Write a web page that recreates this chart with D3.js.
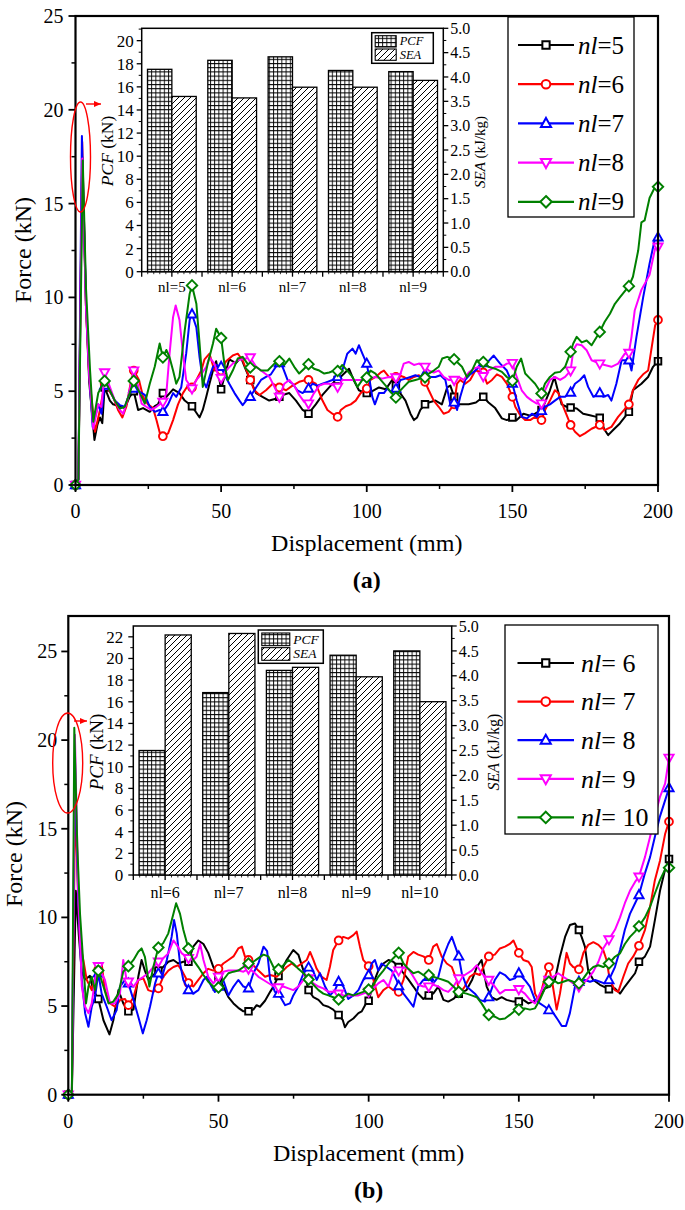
<!DOCTYPE html>
<html><head><meta charset="utf-8">
<script src="https://cdn.jsdelivr.net/npm/d3@7"></script>
<style>
body{margin:0;background:#fff}
svg{display:block;font-family:"Liberation Serif","DejaVu Serif",serif}
svg text{font-family:"Liberation Serif","DejaVu Serif",serif;fill:#000}
</style>
</head><body>
<svg id="c" width="685" height="1210" font-family="Liberation Serif, DejaVu Serif, serif"></svg>
<script>
// ---------------- DATA ----------------
const xTicks = [0, 50, 100, 150, 200];
const topYTicks = [0, 5, 10, 15, 20, 25];
const botYTicks = [0, 5, 10, 15, 20, 25];
const topCats = ["nl=5", "nl=6", "nl=7", "nl=8", "nl=9"];
const topPCF = [17.52, 18.3, 18.6, 17.42, 17.32];
const topSEA = [3.6, 3.57, 3.79, 3.79, 3.93];
const botCats = ["nl=6", "nl=7", "nl=8", "nl=9", "nl=10"];
const botPCF = [11.5, 16.85, 18.9, 20.3, 20.7];
const botSEA = [4.82, 4.85, 4.17, 3.98, 3.48];
const topPcfTicks = [0, 2, 4, 6, 8, 10, 12, 14, 16, 18, 20];
const botPcfTicks = [0, 2, 4, 6, 8, 10, 12, 14, 16, 18, 20, 22];
const seaTicks = ["0.0", "0.5", "1.0", "1.5", "2.0", "2.5", "3.0", "3.5", "4.0", "4.5", "5.0"];
const topLegend = ["=5", "=6", "=7", "=8", "=9"];
const botLegend = ["= 6", "= 7", "= 8", "= 9", "= 10"];
const colors = ["#000000", "#ff0000", "#0000ff", "#ff00ff", "#008000"];
const markers = ["square", "circle", "tri", "triDown", "diamond"];

const topNl5 = [[0,0],[1,0.3],[2.3,17.5],[3.6,9.5],[4.7,5.5],[6.5,2.4],[7.5,3.2],[8.4,3.6],[9.2,3.3],[10,5.2],[11.8,4.5],[12.9,4.3],[15.2,4.2],[16.9,4.1],[18.6,4.7],[20,5.0],[21.5,4.0],[23.2,4.1],[25.5,3.9],[27.2,4.2],[28.3,4.3],[30,4.9],[31.2,4.7],[33.5,5.1],[35.7,4.9],[37.5,4.5],[40,4.2],[42.6,3.6],[43.7,4.0],[44.9,4.7],[46,5.4],[47.2,6.1],[48.3,6.6],[50,5.1],[51.7,6.1],[52.8,6.7],[55.1,6.5],[56.8,6.8],[58.6,6.1],[60,5.6],[62,4.9],[64.2,4.7],[66.5,4.5],[68.8,4.6],[70,4.7],[71.1,4.8],[73.4,4.9],[75.7,4.5],[78,4.0],[80,3.8],[82.5,4.3],[84.8,4.8],[87.1,5.2],[89.4,5.6],[90,5.6],[91.6,5.85],[93.9,6.2],[95.5,5.6],[97.3,5.05],[99.6,4.9],[100,4.9],[101.9,5.0],[104.2,5.2],[106.5,5.1],[108.7,5.6],[110,5.3],[111,5.0],[113.3,4.5],[115,3.8],[116.2,3.46],[117.3,3.6],[118.4,4.0],[120,4.3],[121.3,4.4],[123.6,4.5],[125.8,4.3],[127.6,5.2],[128.7,5.3],[130,4.7],[131.6,4.3],[133.8,4.3],[135,4.3],[137.5,4.4],[140,4.7],[141.8,4.4],[144.1,4.1],[146.4,3.55],[148.1,3.46],[150,3.6],[151.5,3.46],[153.8,3.8],[156.1,3.7],[157.8,3.8],[160,4.0],[161.2,4.4],[162.9,5.05],[164.4,5.76],[165.6,5.05],[166.9,4.3],[168.6,4.17],[170,4.13],[172.1,4.08],[174.3,3.8],[176.6,3.72],[178.9,3.63],[180,3.58],[181.7,2.93],[182.9,2.66],[184.6,2.93],[186.9,3.28],[190,3.9],[191.4,5.05],[194.3,5.4],[196.6,5.76],[198.3,6.3],[200,6.6]];
const topNl6 = [[0,0],[1,0.3],[2.3,18.3],[3.6,9.5],[4.7,5.8],[6.7,2.84],[8.4,4.0],[10,5.4],[11.2,5.1],[12.9,4.7],[14.6,4.0],[16.1,3.6],[17.5,4.2],[18.9,5.4],[20,6.1],[21.8,5.6],[23.2,4.7],[24.9,4.3],[26.6,4.1],[27.8,3.46],[29,2.75],[30,2.6],[31.8,2.75],[33.5,3.46],[35.2,4.3],[36.9,4.9],[38.6,5.3],[40,5.2],[41.5,5.6],[43.2,6.1],[44.3,6.7],[46,7.0],[47.7,6.1],[50,6.1],[51.7,6.6],[54,6.9],[55.7,7.0],[57.4,6.65],[60,5.6],[61.4,5.05],[63.2,4.8],[65.4,5.05],[67.7,5.4],[70,5.2],[72.3,5.05],[74.5,5.3],[76.8,5.5],[79.1,5.6],[80,5.6],[82.5,5.4],[84.8,4.5],[86.5,4.0],[88.2,3.8],[90,3.63],[91.1,4.0],[92.8,4.2],[94.5,4.3],[96.2,4.5],[97.9,4.9],[100,5.14],[101.3,5.6],[103,5.76],[104.8,6.0],[105.9,6.1],[107.6,5.76],[110,5.76],[111,5.85],[112.7,5.76],[114.4,5.6],[116.2,5.76],[117.9,5.85],[120,5.5],[121.3,5.05],[123,4.5],[124.7,4.17],[126.4,3.8],[128.1,3.9],[130,4.3],[131,5.4],[132.1,5.6],[133.8,5.4],[135.5,5.6],[137.3,6.1],[140,6.0],[141.3,5.4],[143,5.6],[144.7,5.9],[146.4,5.76],[148.1,5.4],[150,4.7],[151,4.17],[152.7,3.72],[154.4,3.46],[156.1,3.46],[157.8,3.63],[160,3.46],[161.2,4.0],[162.9,4.5],[164.6,5.05],[165.8,4.9],[167.5,4.17],[170,3.2],[171.5,2.84],[173.2,2.6],[174.9,2.75],[177.2,3.0],[180,3.2],[181.7,2.93],[184,3.1],[186.3,3.63],[190,4.3],[191.4,5.05],[193.2,5.6],[194.9,5.9],[196.6,6.1],[197.7,7.2],[199,8.5],[200,8.8]];
const topNl7 = [[0,0],[1,0.3],[2.2,18.6],[3.6,9.8],[4.7,6.0],[5.9,3.1],[7.8,4.3],[8.9,3.8],[10,5.3],[11.8,5.05],[13.5,4.5],[15.2,4.26],[16.9,4.17],[18.6,4.9],[20,5.14],[22.1,4.96],[23.8,4.8],[25.5,4.17],[27.2,3.9],[28.9,4.0],[30,3.9],[31.8,4.3],[33.5,4.9],[34.6,4.7],[36.3,5.2],[38,7.0],[39.2,8.8],[40,9.1],[41.5,8.4],[42.6,6.8],[43.7,5.6],[44.9,5.2],[46,5.76],[47.2,6.3],[48.3,6.4],[50,6.3],[51.1,5.9],[52.8,5.4],[54.6,4.9],[56.3,4.5],[57.4,4.26],[58.6,4.5],[60,4.7],[62,5.2],[63.7,5.6],[65.4,5.76],[67.1,5.9],[68.8,6.3],[70,6.5],[71.1,6.3],[72.8,5.6],[74.5,5.4],[76.2,5.05],[78,4.9],[80,5.14],[81.4,5.4],[83.1,5.3],[84.8,5.4],[86.5,5.5],[88.2,5.6],[90,5.76],[91.6,6.1],[93.3,7.0],[95.1,7.27],[96.2,7.0],[97.3,7.45],[98.5,7.0],[100,6.47],[100.8,5.76],[101.9,4.7],[102.8,4.3],[104.2,4.9],[105.9,4.9],[107,5.14],[108.7,4.9],[110,5.14],[111.6,5.6],[113.3,5.67],[115,5.76],[116.7,5.85],[118.4,5.76],[120,5.9],[121.9,5.76],[123.6,5.76],[125.3,5.85],[127,5.6],[128.7,4.3],[130,4.4],[131,4.0],[132.1,4.7],[133.8,5.6],[135.5,5.9],[137.3,6.1],[140,6.5],[141.8,6.6],[143.6,6.9],[145.8,6.47],[148.1,6.1],[150,5.4],[151.5,4.5],[153.2,3.63],[155,3.55],[156.7,3.8],[158.4,3.63],[160,3.95],[161.2,4.17],[162.9,4.3],[164.6,4.5],[166.4,4.7],[168.1,4.7],[170,4.93],[171.5,5.4],[173.2,5.6],[174.7,5.85],[176,5.23],[177.8,4.7],[180,4.9],[181.2,4.7],[182.9,4.8],[184,4.5],[185.7,5.4],[187.5,6.65],[190,6.65],[190.9,6.1],[192.6,7.9],[194.9,10.0],[197.1,11.8],[198.9,13.1],[200,13.2]];
const topNl8 = [[0,0],[1,0.3],[2.3,17.4],[3.6,9.5],[4.7,5.9],[6.1,3.0],[7.8,4.3],[8.9,4.17],[10,6.0],[11.8,5.23],[13.5,4.5],[15.2,4.0],[16.4,3.8],[18.1,4.7],[20,6.1],[21.6,5.23],[22.7,4.34],[24.3,4.17],[26,4.0],[27.8,4.17],[30,4.43],[31.2,4.9],[32.3,7.0],[33.5,8.95],[34.4,9.57],[35.7,8.8],[36.9,7.0],[38,5.6],[40,5.14],[41.5,5.6],[43.2,5.9],[44.9,6.3],[46,6.8],[47.7,6.47],[48.9,5.9],[50,5.7],[51.7,6.1],[54,6.47],[55.7,6.65],[57.4,6.7],[60,6.8],[62,6.3],[63.7,6.1],[65.4,5.9],[66.6,5.76],[68.3,5.23],[70,4.7],[71.7,5.4],[73.4,5.6],[75.1,5.3],[76.8,4.8],[78.5,4.43],[80,4.34],[81.9,4.9],[83.7,5.3],[85.4,5.4],[87.1,5.4],[88.8,5.3],[90,5.23],[91.6,5.6],[95,5.6],[98.5,5.6],[100.8,5.67],[103,5.76],[105.3,5.67],[107.6,5.76],[110,5.73],[111.6,5.94],[112.7,6.47],[114.4,6.56],[116.2,6.4],[117.9,6.47],[120,6.3],[121.3,6.1],[123,6.0],[124.7,6.1],[126.4,5.76],[128.1,5.6],[130,5.6],[131.5,5.76],[133.3,5.6],[135,6.0],[136.7,6.2],[138.4,6.3],[140,5.8],[141.8,6.1],[144.1,6.3],[146.4,6.3],[148.1,6.47],[150,6.5],[151.5,5.76],[153.2,5.05],[155,4.7],[156.7,4.5],[158.4,4.34],[160,4.34],[161.2,5.05],[162.9,5.6],[164.6,5.76],[166.4,5.6],[168.1,5.76],[170,6.1],[170.9,7.18],[172.1,7.5],[173.8,7.45],[175.5,7.18],[177.2,6.65],[180,6.47],[181.7,6.4],[184,6.3],[186.3,6.47],[188.6,7.0],[190,7.04],[190.9,7.9],[192,9.3],[194.3,10.4],[197.1,11.2],[199,12.6],[200,12.7]];
const topNl9 = [[0,0],[1,0.3],[2.5,17.3],[3.6,10.5],[5,6.1],[6.1,3.37],[7.8,4.9],[8.9,5.23],[10,5.55],[11.8,5.05],[13.5,4.5],[15.2,4.08],[16.9,4.17],[18.6,4.9],[20,5.55],[22.1,4.9],[23.8,4.34],[25.5,5.4],[27.2,6.3],[28.9,7.54],[30,6.8],[31.2,7.2],[32.3,6.8],[33.5,6.1],[34.6,5.4],[35.7,5.76],[37.5,8.24],[39.2,10.2],[40,10.64],[41.5,9.66],[42.6,7.54],[43.7,5.23],[45.4,6.47],[47.2,7.54],[48.3,8.33],[50,7.84],[51.1,6.47],[52.3,5.58],[54,6.1],[55.7,6.74],[57.4,6.83],[60,6.26],[62,6.3],[63.7,6.1],[66,6.1],[68.3,6.47],[70,6.6],[71.7,6.4],[73.4,6.74],[75.1,6.3],[76.8,5.94],[78.5,6.2],[80,6.44],[81.9,6.2],[83.7,6.1],[85.4,5.94],[87.1,6.0],[88.8,6.1],[90,6.08],[91.6,6.4],[93.3,6.1],[95.1,5.76],[96.8,5.23],[98.5,5.6],[100,5.73],[101.3,6.1],[103,5.94],[104.8,5.6],[106.5,5.3],[108.2,4.96],[110,4.66],[111,4.96],[112.7,5.23],[114.4,5.5],[116.7,5.6],[118.4,5.67],[120,5.73],[121.3,5.94],[123,6.1],[124.7,6.3],[125.9,6.74],[127.6,6.83],[130,6.7],[131,6.56],[132.7,6.3],[134.4,5.76],[136.1,6.1],[137.8,6.65],[140,6.56],[141.8,6.3],[144.1,6.2],[146.4,6.03],[148.1,5.76],[150,5.55],[151.5,6.3],[153,6.74],[154.4,5.94],[156.1,5.67],[157.8,5.4],[160,4.88],[161.2,5.4],[162.9,5.76],[164.6,5.98],[166.4,6.03],[168.1,6.3],[170,7.1],[170.9,7.54],[172.1,7.9],[173.8,7.6],[175.5,7.7],[177.2,7.45],[180,8.16],[181.7,8.7],[183.5,9.13],[185.2,9.66],[186.9,10.0],[190,10.6],[191.4,11.1],[193.2,12.5],[194.3,14.0],[195.4,14.1],[197.1,15.3],[199,15.9],[200,15.9]];

const botNl6 = [[0,0],[1.2,0.2],[2.5,11.5],[3.5,9],[4.5,6.9],[5.6,6.5],[7.2,6.7],[8.3,5.9],[10,5.4],[11.7,4.2],[13.7,3.4],[15,4.2],[16.7,5.9],[18.3,5.15],[20,4.7],[21.7,4.8],[23.3,6.65],[24.4,7.6],[25.5,7.0],[26.6,6.5],[28.3,6.75],[30,7.0],[31.6,7.2],[33.3,7.5],[35,7.6],[36.6,7.4],[38.3,7.5],[40,7.5],[41.6,8.35],[43.3,8.7],[45,8.5],[46.6,8.0],[48.3,7.2],[50,6.65],[51.6,6.1],[53.3,5.5],[55,5.15],[56.6,4.9],[58.3,4.7],[60,4.7],[61.6,4.8],[62.7,5.05],[63.8,4.96],[65.5,5.3],[67.2,5.8],[68.3,6.1],[70,6.7],[72.7,7.6],[74.9,8.16],[76.6,7.9],[78.3,7.0],[80,5.9],[81.6,5.5],[83.3,5.35],[84.9,5.05],[86.6,4.96],[88.2,4.8],[90,4.5],[91.4,4.2],[92.1,3.8],[93.2,4.1],[94.9,4.3],[96.6,4.6],[97.7,4.7],[98.8,5.05],[100,5.3],[101.6,6.3],[103.2,7.0],[104.9,7.4],[106.6,7.6],[108.2,7.5],[110,7.2],[111.6,6.85],[113.2,6.5],[114.9,6.1],[116.5,5.7],[118.2,5.4],[120,5.6],[121.5,5.7],[123.2,6.1],[124.9,5.35],[126.5,5.25],[128.2,5.4],[130,5.7],[132.6,5.9],[134.5,6.5],[136,7.2],[137.6,7.6],[139.3,6.1],[140.9,5.5],[142.6,5.35],[144.3,5.5],[145.9,5.35],[148.2,5.25],[150,5.25],[151.5,5.35],[153.2,5.15],[154.8,5.25],[157,5.5],[158.7,6.0],[160.4,6.1],[162,6.47],[163.7,7.8],[165.4,8.9],[167,9.57],[168.7,9.66],[170,9.29],[170.9,8.9],[172,8.35],[173.1,7.0],[174.8,6.47],[177,6.2],[180,5.95],[182,6.0],[183.7,5.7],[185.3,6.1],[187,6.47],[188.7,6.85],[190,7.5],[192,7.8],[193.7,8.35],[195.3,9.85],[197,11.5],[198.7,12.7],[200,13.3]];
const botNl7 = [[0,0],[1.2,0.2],[2.3,16.85],[3.3,11],[3.9,8.5],[5,7.6],[6.1,6.5],[7.8,5.9],[9.4,6.85],[10,7.07],[11.1,7.4],[12.2,5.9],[13.9,5.15],[15.6,4.96],[17.3,5.35],[18.9,5.4],[20,5.05],[21.7,5.5],[23.3,6.47],[25,6.56],[26.6,5.9],[28.3,5.8],[30,6.0],[31.6,6.65],[33.3,7.0],[35,7.2],[36.6,7.3],[37.8,7.0],[38.9,6.65],[40,6.3],[41.6,6.1],[43.3,6.47],[45,6.85],[46.6,7.1],[48.3,7.0],[50,7.1],[51.6,7.4],[53.3,7.6],[55,7.8],[56.6,8.25],[57.8,8.35],[58.8,7.8],[60,7.6],[61.6,7.3],[63.3,7.0],[65.5,6.65],[67.2,6.75],[69.4,6.65],[71,6.9],[72.7,7.2],[74.4,7.4],[76,7.2],[77.7,7.4],[79.4,7.6],[80.5,8.05],[81.6,7.6],[82.7,7.1],[84.4,6.65],[86,6.47],[87.1,7.2],[88.2,8.16],[90,8.7],[91.6,8.9],[93.2,8.8],[94.9,9.0],[96,9.2],[97.1,8.35],[98.2,7.6],[100,7.25],[101.6,6.47],[103.2,5.5],[104.9,5.9],[106.6,6.1],[108.2,5.9],[110,5.8],[111.6,6.47],[113.2,7.8],[114.9,8.05],[116.5,7.9],[118.2,7.8],[120,7.6],[121.5,8.35],[122.7,8.5],[124.3,7.8],[126,7.4],[127.7,7.2],[129.3,6.47],[130.4,5.7],[132,6.1],[133.7,6.65],[135.4,6.85],[137,6.75],[138.2,7.2],[140,7.8],[142,7.9],[143.7,8.25],[145.4,8.35],[147,8.5],[148.2,8.7],[150,8.0],[151.5,7.6],[153.2,7.5],[154.3,7.2],[155.4,5.7],[156.5,5.35],[157.6,5.9],[158.7,6.65],[160,7.2],[161,6.47],[162.6,4.8],[163.7,5.7],[164.8,6.85],[165.9,8.0],[167,7.4],[168.1,7.2],[170,7.07],[171.5,8.0],[173.1,8.45],[174.8,8.6],[176.5,8.45],[178.1,8.16],[179.2,7.6],[180.3,6.47],[182,5.9],[183.1,5.8],[184.8,6.65],[186.4,7.4],[188.1,7.8],[190,8.4],[192,9.3],[193.7,10.6],[195.3,12.1],[197,13.2],[198.7,14.7],[200,15.4]];
const botNl8 = [[0,0],[1.2,0.2],[2.2,18.9],[3.3,11],[4.5,6.47],[5.6,4.6],[6.7,3.83],[7.8,4.96],[8.9,5.5],[10,6.85],[11.1,5.7],[12.8,4.96],[14.4,4.2],[16.1,4.77],[17.2,6.1],[18.9,6.47],[20,6.28],[21.7,5.35],[23.3,4.4],[24.8,3.46],[26.1,4.2],[27.2,4.96],[28.9,6.28],[30,6.85],[31.1,6.56],[32.8,7.6],[34.4,8.9],[35.2,9.85],[36.1,9.1],[37.2,7.4],[38.3,6.47],[40,5.9],[41.6,5.7],[43.3,5.9],[45,6.47],[46.1,6.65],[47.7,6.1],[48.8,5.8],[50,6.1],[51.6,6.47],[53.3,5.6],[55,6.1],[56.6,6.47],[58.3,6.1],[60,6.0],[61.6,6.85],[63.3,7.4],[65,8.35],[66.2,8.1],[67.2,6.47],[68.8,5.8],[70,5.7],[72.2,5.05],[73.8,5.15],[74.9,5.6],[76.6,6.1],[78.3,6.85],[80,7.18],[81.6,6.94],[82.7,6.47],[83.8,6.85],[85.5,6.1],[87.1,5.6],[88.8,5.9],[90,6.37],[91.6,6.1],[93.2,5.4],[94.9,5.6],[96.6,5.9],[98.2,6.47],[100,6.75],[101,7.4],[102.1,7.6],[103.2,7.0],[104.3,7.4],[106,7.2],[107.7,7.0],[109.3,6.47],[110,6.13],[111.6,5.7],[113.2,5.35],[114.9,4.96],[116.5,6.1],[118.2,6.47],[120,6.65],[121.5,6.28],[123.2,6.65],[124.9,7.8],[126.5,8.5],[127.7,8.9],[130,7.8],[131,6.85],[132.6,6.1],[135.4,5.7],[137,5.35],[138.7,5.25],[140,5.5],[142,6.47],[143.7,6.9],[145.4,6.75],[147,6.47],[148.7,6.56],[150,6.85],[152,6.47],[153.7,6.1],[155.4,5.35],[157,5.15],[158.7,4.96],[160,4.77],[161.5,4.6],[163.1,4.2],[164.3,3.87],[165.7,3.87],[167,4.6],[168.7,6.1],[170,6.37],[172,6.47],[173.7,6.37],[175.4,6.47],[177,6.37],[178.5,6.28],[180,6.47],[182,7.2],[183.7,8.16],[185.3,9.3],[187,10.2],[188.7,10.8],[190,11.26],[192,12.5],[193.7,13.4],[195.3,14.55],[197,15.7],[198.7,16.6],[200,17.3]];
const botNl9 = [[0,0],[1.2,0.2],[2.2,20.3],[3.3,11.5],[4.5,6.1],[5.6,4.96],[6.7,4.6],[7.8,5.15],[8.9,6.5],[10,7.25],[11.1,6.85],[12.2,6.47],[13.9,5.15],[15.6,5.15],[17.2,5.7],[18.3,7.6],[19.4,6.47],[20,6.37],[21.7,6.1],[23.3,6.47],[25,6.65],[26.6,6.85],[28.3,7.2],[30,7.5],[31.6,7.7],[33.3,7.97],[35,8.7],[36.1,8.45],[37.8,7.97],[40,7.7],[41.6,7.6],[42.7,7.78],[43.9,8.5],[45,7.6],[46.6,6.65],[48.3,6.28],[50,6.65],[51.6,6.94],[53.3,7.0],[56.6,7.0],[58.3,6.94],[60,7.1],[61.6,6.94],[63.3,6.65],[65,6.47],[66.6,6.3],[68.3,6.13],[70,6.05],[71.6,6.1],[73.3,6.0],[74.9,5.9],[76.6,6.1],[78.3,6.47],[80,6.56],[81.6,6.28],[83.3,6.1],[84.9,6.0],[86.6,5.8],[88.2,5.8],[90,5.7],[91.6,5.6],[96.6,5.6],[98.2,5.7],[100,5.8],[101.6,6.0],[103.2,6.28],[104.9,6.47],[106.6,6.1],[108.2,6.94],[110,7.0],[111.6,7.18],[113.2,7.1],[114.9,6.65],[116.5,6.2],[118.2,6.1],[120,6.1],[121.5,6.2],[123.2,6.1],[124.9,5.9],[126.5,5.8],[128.2,6.1],[130,6.56],[132,6.75],[134.3,7.0],[136,7.3],[137.6,6.85],[140,6.47],[142,6.1],[143.7,5.7],[145.4,5.9],[148.7,5.9],[150,5.95],[152,5.7],[153.7,5.35],[155.4,5.15],[157,5.7],[158.7,6.28],[160,6.47],[161.5,6.65],[163.1,6.85],[164.8,6.65],[166.5,6.47],[168.1,6.28],[170,6.1],[171.5,6.28],[173.1,6.56],[174.8,6.94],[176.5,7.5],[178.1,8.25],[180,8.76],[182,9.3],[183.7,10.0],[185.3,10.8],[187,11.5],[188.7,12.0],[190,12.3],[192,13.4],[193.7,14.55],[195.3,15.7],[197,16.8],[198.7,17.55],[200,19.0]];
const botNl10 = [[0,0],[1.2,0.2],[2.0,20.7],[3.0,14],[3.9,10.2],[5,7.4],[5.9,5.15],[6.7,6.1],[7.8,6.65],[8.9,5.9],[10,7.0],[11.7,6.1],[13.4,5.15],[15,5.25],[16.7,5.7],[18.3,6.94],[20,7.25],[21.7,7.6],[23.3,8.06],[24.4,8.25],[25.5,7.78],[27,6.1],[28.3,7.2],[30,8.3],[31.6,8.55],[33.3,9.1],[35,10.2],[35.9,10.8],[37.2,10.2],[38.3,9.3],[40,8.25],[41.6,7.6],[43.3,7.2],[45,6.75],[46.6,6.37],[48.3,6.1],[50,6.05],[51.6,6.47],[53.3,6.85],[55,6.94],[56.6,7.0],[58.3,7.2],[60,7.4],[61.6,7.5],[63.3,7.7],[65,7.9],[66.6,7.8],[68.3,7.2],[70,7.07],[71.6,7.3],[73.3,7.6],[74.9,7.4],[76.6,7.1],[78.3,6.85],[80,6.5],[81.6,6.2],[83.3,5.9],[84.9,5.7],[86.6,5.6],[88.2,5.5],[90,5.37],[91.6,5.5],[93.2,5.7],[94.9,5.6],[96.6,5.7],[98.2,5.8],[100,5.93],[101.6,6.2],[103.2,6.65],[104.9,7.0],[106.6,7.4],[108.2,7.7],[110,8.0],[111.6,7.4],[113.2,7.1],[114.9,6.85],[116.5,6.94],[118.2,6.75],[120,6.75],[121.5,6.65],[123.2,6.56],[124.9,6.47],[126.5,6.37],[128.2,6.1],[130,5.8],[132.6,5.7],[134.3,5.6],[136,5.5],[137.6,5.15],[140,4.5],[142,4.4],[143.7,4.25],[145.4,4.3],[147,4.5],[148.7,4.74],[150,4.8],[152,4.87],[153.7,4.8],[155.4,4.87],[157,5.35],[158.7,6.0],[160,6.37],[161.5,6.47],[163.1,6.28],[164.8,6.37],[166.5,6.47],[168.1,6.37],[170,6.28],[171.5,6.56],[173.1,6.94],[174.8,7.2],[176.5,7.3],[178.1,7.2],[180,7.4],[182,7.78],[183.7,7.97],[185.3,8.5],[187,8.9],[188.7,9.2],[190,9.5],[192,10.0],[193.7,10.6],[195.3,11.35],[197,12.1],[198.7,12.7],[200,12.8]];

// ---------------- DRAWING ----------------
const FONT = "'Liberation Serif', 'DejaVu Serif', serif";
const svg = d3.select("#c");
svg.append("rect").attr("width", 685).attr("height", 1210).attr("fill", "#fff");
const defs = svg.append("defs");
const gp = defs.append("pattern").attr("id", "gridP").attr("patternUnits", "userSpaceOnUse").attr("width", 4.2).attr("height", 4.2);
gp.append("rect").attr("width", 4.2).attr("height", 4.2).attr("fill", "#fff");
gp.append("path").attr("d", "M0,0.5H4.2M0.5,0V4.2").attr("stroke", "#000").attr("stroke-width", 0.9).attr("fill", "none");
const hp = defs.append("pattern").attr("id", "hatchP").attr("patternUnits", "userSpaceOnUse").attr("width", 6).attr("height", 6);
hp.append("rect").attr("width", 6).attr("height", 6).attr("fill", "#fff");
hp.append("path").attr("d", "M-1.5,1.5L1.5,-1.5M0,6L6,0M4.5,7.5L7.5,4.5").attr("stroke", "#000").attr("stroke-width", 1).attr("fill", "none");
defs.append("marker").attr("id", "arr").attr("markerUnits", "userSpaceOnUse").attr("markerWidth", 8).attr("markerHeight", 8)
  .attr("refX", 7).attr("refY", 4).attr("orient", "auto")
  .append("path").attr("d", "M0,1L7,4L0,7Z").attr("fill", "#ff0000");

function txt(g) { return g.append("text").style("font-family", FONT).attr("fill", "#000"); }

function markerPath(t, k) {
  k = k || 1;
  if (t === "square") { const h = 3.3 * k; return `M${-h},${-h}h${2*h}v${2*h}h${-2*h}Z`; }
  if (t === "circle") { const r = 3.9 * k; return `M${r},0A${r},${r} 0 1,1 ${-r},0A${r},${r} 0 1,1 ${r},0Z`; }
  if (t === "tri") return `M0,${-5*k}L${4.6*k},${3.2*k}L${-4.6*k},${3.2*k}Z`;
  if (t === "triDown") return `M0,${5*k}L${4.6*k},${-3.2*k}L${-4.6*k},${-3.2*k}Z`;
  return `M0,${-5.2*k}L${5.2*k},0L0,${5.2*k}L${-5.2*k},0Z`;
}

function drawInset(g, o, cats, pcf, sea, pcfTicks, pcfMax) {
  const xb = d3.scaleBand().domain(cats).range([o.L, o.R]);
  const yP = d3.scaleLinear().domain([0, pcfMax]).range([o.B, o.T]);
  const yS = d3.scaleLinear().domain([0, 5]).range([o.B, o.T]);
  const step = xb.step(), bw = step * o.bwf;
  g.append("rect").attr("x", o.L).attr("y", o.T).attr("width", o.R - o.L).attr("height", o.B - o.T)
    .attr("fill", "#fff").attr("stroke", "#000").attr("stroke-width", 1.5);
  cats.forEach((c, i) => {
    const cx = xb(c) + step / 2;
    g.append("rect").attr("x", cx - bw).attr("y", yP(pcf[i])).attr("width", bw).attr("height", o.B - yP(pcf[i]))
      .attr("fill", "url(#gridP)").attr("stroke", "#000").attr("stroke-width", 1.3);
    g.append("rect").attr("x", cx).attr("y", yS(sea[i])).attr("width", bw).attr("height", o.B - yS(sea[i]))
      .attr("fill", "url(#hatchP)").attr("stroke", "#000").attr("stroke-width", 1.3);
    txt(g).attr("x", cx).attr("y", o.B + o.catDy).attr("text-anchor", "middle")
      .style("font-size", o.catFs + "px").text(c);
  });
  for (let k = 0; k <= 50; k++) {
    const xx = o.L + k * step / 10;
    const major = k % 5 === 0;
    g.append("line").attr("x1", xx).attr("x2", xx).attr("y1", o.B).attr("y2", o.B + (major ? 5 : 2.5))
      .attr("stroke", "#000").attr("stroke-width", major ? 1.3 : 0.8);
  }
  pcfTicks.forEach(v => {
    g.append("line").attr("x1", o.L - 5).attr("x2", o.L).attr("y1", yP(v)).attr("y2", yP(v)).attr("stroke", "#000").attr("stroke-width", 1.3);
    txt(g).attr("x", o.L - o.lGap).attr("y", yP(v)).attr("dy", "0.35em").attr("text-anchor", "end")
      .style("font-size", o.tickFs + "px").text(v);
    if (v + 1 < pcfMax) g.append("line").attr("x1", o.L - 3).attr("x2", o.L).attr("y1", yP(v + 1)).attr("y2", yP(v + 1)).attr("stroke", "#000").attr("stroke-width", 1);
  });
  seaTicks.forEach(s => {
    const v = +s;
    g.append("line").attr("x1", o.R).attr("x2", o.R + 5).attr("y1", yS(v)).attr("y2", yS(v)).attr("stroke", "#000").attr("stroke-width", 1.3);
    txt(g).attr("x", o.R + o.rGap).attr("y", yS(v)).attr("dy", "0.35em").attr("text-anchor", "start")
      .style("font-size", o.rFs + "px").text(s);
    if (v < 5) g.append("line").attr("x1", o.R).attr("x2", o.R + 3).attr("y1", yS(v + 0.25)).attr("y2", yS(v + 0.25)).attr("stroke", "#000").attr("stroke-width", 1);
  });
  const t1 = txt(g).attr("transform", `translate(${o.pcfTitle[0]},${o.pcfTitle[1]}) rotate(-90)`)
    .attr("text-anchor", "middle").attr("dy", "0.35em").style("font-size", o.titleFs + "px");
  t1.append("tspan").style("font-style", "italic").text("PCF");
  t1.append("tspan").text(" (kN)");
  const t2 = txt(g).attr("transform", `translate(${o.seaTitle[0]},${o.seaTitle[1]}) rotate(-90)`)
    .attr("text-anchor", "middle").attr("dy", "0.35em").style("font-size", o.seaFs + "px");
  t2.append("tspan").style("font-style", "italic").text("SEA");
  t2.append("tspan").text(" (kJ/kg)");
  const lg = o.leg;
  g.append("rect").attr("x", lg.x).attr("y", lg.y).attr("width", lg.w).attr("height", lg.h)
    .attr("fill", "#fff").attr("stroke", "#000").attr("stroke-width", 1.5);
  const rowH = (lg.h - 4) / 2;
  [["PCF", "url(#gridP)"], ["SEA", "url(#hatchP)"]].forEach((e, i) => {
    const yy = lg.y + 2 + i * rowH;
    g.append("rect").attr("x", lg.x + 3.5).attr("y", yy + 1).attr("width", lg.sw).attr("height", rowH - 2)
      .attr("fill", e[1]).attr("stroke", "#000").attr("stroke-width", 1.1);
    txt(g).attr("x", lg.x + lg.sw + 7).attr("y", yy + rowH / 2 + lg.fs * 0.33)
      .style("font-size", lg.fs + "px").style("font-style", "italic").text(e[0]);
  });
}

function drawPanel(o) {
  const g = svg.append("g");
  const x = d3.scaleLinear().domain([0, 200]).range([o.L, o.R]);
  const y = d3.scaleLinear().domain([0, o.yMax]).range([o.B, o.T]);
  const line = d3.line().x(d => x(d[0])).y(d => y(d[1]));
  o.series.forEach((s, i) => {
    g.append("path").datum(s).attr("d", line).attr("fill", "none").attr("stroke", colors[i])
      .attr("stroke-width", 2).attr("stroke-linejoin", "round");
    g.selectAll(null).data(s.filter(d => Math.abs(d[0] % 10) < 1e-9)).enter().append("path")
      .attr("transform", d => `translate(${x(d[0])},${y(d[1])})`)
      .attr("d", markerPath(markers[i])).attr("fill", "#fff").attr("stroke", colors[i]).attr("stroke-width", 1.9);
  });
  g.append("rect").attr("x", o.L).attr("y", o.T).attr("width", o.R - o.L).attr("height", o.B - o.T)
    .attr("fill", "none").attr("stroke", "#000").attr("stroke-width", 2.2);
  o.yTicks.forEach(v => {
    g.append("line").attr("x1", o.L - 7).attr("x2", o.L).attr("y1", y(v)).attr("y2", y(v)).attr("stroke", "#000").attr("stroke-width", 1.8);
    txt(g).attr("x", o.L - o.yLabGap).attr("y", y(v)).attr("dy", "0.35em").attr("text-anchor", "end")
      .style("font-size", "20px").text(v);
    if (v + 2.5 < o.yMax) g.append("line").attr("x1", o.L - 4).attr("x2", o.L).attr("y1", y(v + 2.5)).attr("y2", y(v + 2.5)).attr("stroke", "#000").attr("stroke-width", 1.5);
  });
  xTicks.forEach(v => {
    g.append("line").attr("x1", x(v)).attr("x2", x(v)).attr("y1", o.B).attr("y2", o.B + 7).attr("stroke", "#000").attr("stroke-width", 1.8);
    txt(g).attr("x", x(v)).attr("y", o.B + 33).attr("text-anchor", "middle").style("font-size", "20px").text(v);
    if (v + 25 < 200) g.append("line").attr("x1", x(v + 25)).attr("x2", x(v + 25)).attr("y1", o.B).attr("y2", o.B + 4).attr("stroke", "#000").attr("stroke-width", 1.5);
  });
  txt(g).attr("x", (o.L + o.R) / 2).attr("y", o.B + 66).attr("text-anchor", "middle").style("font-size", "24px").text("Displacement (mm)");
  txt(g).attr("x", (o.L + o.R) / 2).attr("y", o.B + 103).attr("text-anchor", "middle").style("font-size", "24px").style("font-weight", "bold").text(o.tag);
  txt(g).attr("transform", `translate(${o.yTitleX},${o.yTitleY}) rotate(-90)`).attr("text-anchor", "middle").attr("dy", "0.35em")
    .style("font-size", "24px").text("Force (kN)");
  g.append("ellipse").attr("cx", o.ell[0]).attr("cy", o.ell[1]).attr("rx", o.ell[2]).attr("ry", o.ell[3])
    .attr("fill", "none").attr("stroke", "#ff0000").attr("stroke-width", 1.4);
  g.append("line").attr("x1", o.arrow[0]).attr("x2", o.arrow[1]).attr("y1", o.arrow[2]).attr("y2", o.arrow[2])
    .attr("stroke", "#ff0000").attr("stroke-width", 1.4).attr("marker-end", "url(#arr)");
  drawInset(g, o.inset, o.cats, o.pcf, o.sea, o.pcfTicks, o.inset.pcfMax);
  const L = o.legend;
  g.append("rect").attr("x", L.x).attr("y", L.y).attr("width", L.w).attr("height", L.h)
    .attr("fill", "#fff").attr("stroke", "#000").attr("stroke-width", 1.3);
  o.legendLabels.forEach((lab, i) => {
    const yy = L.y + L.first + i * L.gap;
    g.append("line").attr("x1", L.lx1).attr("x2", L.lx2).attr("y1", yy).attr("y2", yy).attr("stroke", colors[i]).attr("stroke-width", 2.2);
    g.append("path").attr("transform", `translate(${(L.lx1 + L.lx2) / 2},${yy})`).attr("d", markerPath(markers[i], 1.1))
      .attr("fill", "#fff").attr("stroke", colors[i]).attr("stroke-width", 2);
    const t = txt(g).attr("x", L.tx).attr("y", yy + L.fs * 0.34).style("font-size", L.fs + "px").style("white-space", "pre");
    t.append("tspan").style("font-style", "italic").text("nl");
    t.append("tspan").text(lab);
  });
}

drawPanel({
  L: 75.5, R: 658, T: 16, B: 485, yMax: 25, yTicks: topYTicks, yLabGap: 12, tag: "(a)",
  yTitleX: 23, yTitleY: 250,
  series: [topNl5, topNl6, topNl7, topNl8, topNl9],
  ell: [80.5, 157, 10, 55], arrow: [86, 101, 104],
  cats: topCats, pcf: topPCF, sea: topSEA, pcfTicks: topPcfTicks,
  inset: { L: 141.7, R: 443.3, T: 28.3, B: 271.7, pcfMax: 21.07, bwf: 0.404, catDy: 20, catFs: 15, tickFs: 17, rFs: 16,
    lGap: 8, rGap: 7, titleFs: 17.5, seaFs: 15, pcfTitle: [107, 151], seaTitle: [480, 152],
    leg: { x: 371.7, y: 32.7, w: 61.6, h: 30.6, sw: 21, fs: 12.5 } },
  legend: { x: 508, y: 17, w: 126, h: 200, first: 28, gap: 39.2, lx1: 518, lx2: 574, tx: 578, fs: 25 },
  legendLabels: topLegend
});

drawPanel({
  L: 68.3, R: 669, T: 616, B: 1094.7, yMax: 27, yTicks: botYTicks, yLabGap: 11, tag: "(b)",
  yTitleX: 14, yTitleY: 854,
  series: [botNl6, botNl7, botNl8, botNl9, botNl10],
  ell: [67.7, 763, 15, 50], arrow: [74, 87, 721],
  cats: botCats, pcf: botPCF, sea: botSEA, pcfTicks: botPcfTicks,
  inset: { L: 133.3, R: 451.7, T: 626, B: 875, pcfMax: 23.0, bwf: 0.41, catDy: 23, catFs: 16, tickFs: 17, rFs: 16,
    lGap: 10, rGap: 7, titleFs: 19, seaFs: 16, pcfTitle: [96, 752], seaTitle: [493, 752],
    leg: { x: 258.3, y: 630, w: 65, h: 33.3, sw: 28, fs: 13.5 } },
  legend: { x: 505, y: 625, w: 153, h: 209, first: 38, gap: 38.6, lx1: 517.5, lx2: 574, tx: 581, fs: 26 },
  legendLabels: botLegend
});
</script>
</body></html>
